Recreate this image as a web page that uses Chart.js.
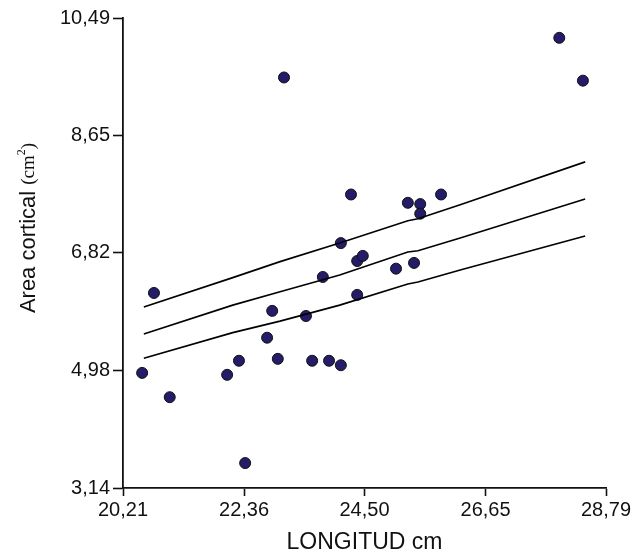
<!DOCTYPE html>
<html lang="es">
<head>
<meta charset="UTF-8" />
<title>Area cortical vs longitud</title>
<script src="https://cdn.jsdelivr.net/npm/chart.js@4.4.1/dist/chart.umd.min.js"></script>
<style>
  html, body { margin: 0; padding: 0; background: #fff; }
  #wrap { width: 637px; height: 556px; }
</style>
</head>
<body>
<div id="wrap"><canvas id="canvas"></canvas></div>
<script>
// axis ticks
const xTicks = [20.21, 22.36, 24.50, 26.65, 28.79];
const xTickLabels = ['20,21', '22,36', '24,50', '26,65', '28,79'];
const yTicks = [3.14, 4.98, 6.82, 8.65, 10.49];
const yTickLabels = ['3,14', '4,98', '6,82', '8,65', '10,49'];

const longitud = [20.55, 20.76, 21.04, 22.06, 22.27, 22.38, 22.77, 22.86, 22.96, 23.07,
                  23.46, 23.57, 23.76, 23.87, 24.08, 24.08, 24.26, 24.37, 24.47, 24.37,
                  25.06, 25.27, 25.38, 25.49, 25.49, 25.86, 27.96, 28.38];
const area     = [4.94, 6.19, 4.56, 4.91, 5.13, 3.53, 5.49, 5.91, 5.16, 9.56,
                  5.83, 5.13, 6.44, 5.13, 6.97, 5.06, 7.73, 6.69, 6.77, 6.16,
                  6.57, 7.60, 6.66, 7.58, 7.43, 7.73, 10.18, 9.51];

// regression line and bands
const lineX  = [20.58, 22.16, 23.00, 24.06, 25.27, 25.45, 26.20, 28.42];
const upperY = [5.97, 6.43, 6.68, 6.97, 7.32, 7.35, 7.57, 8.24];
const fitY   = [5.55, 6.00, 6.21, 6.47, 6.83, 6.85, 7.05, 7.66];
const lowerY = [5.17, 5.57, 5.75, 6.00, 6.33, 6.36, 6.55, 7.08];

const pts = (xs, ys) => xs.map((x, i) => ({ x: x, y: ys[i] }));

const lineStyle = {
    showLine: true,
    borderColor: '#000',
    borderWidth: 1.6,
    pointRadius: 0,
    fill: false,
    tension: 0
};

// y title with mixed fonts: "Area cortical (cm²)"
const yTitle = {
    id: 'yTitle',
    afterDraw(chart) {
        const ctx = chart.ctx;
        const parts = [
            { t: 'Area cortical ', f: '22px "Liberation Sans", Arial, sans-serif', dy: 0 },
            { t: '(cm', f: '19px "Liberation Serif", "Times New Roman", serif', dy: 0 },
            { t: '2', f: '12px "Liberation Serif", "Times New Roman", serif', dy: -7 },
            { t: ')', f: '19px "Liberation Serif", "Times New Roman", serif', dy: 0 }
        ];
        let total = 0;
        parts.forEach(p => { ctx.font = p.f; p.w = ctx.measureText(p.t).width; total += p.w; });
        ctx.save();
        ctx.translate(29, 228);
        ctx.rotate(-Math.PI / 2);
        ctx.fillStyle = '#111';
        ctx.textBaseline = 'middle';
        ctx.textAlign = 'left';
        let x = -total / 2;
        parts.forEach(p => {
            ctx.font = p.f;
            ctx.fillText(p.t, x, p.dy);
            x += p.w;
        });
        ctx.restore();
    }
};

const tickFont = { family: '"Liberation Sans", Arial, sans-serif', size: 20 };

new Chart(document.getElementById('canvas'), {
    type: 'scatter',
    data: {
        datasets: [
            Object.assign({ data: pts(lineX, upperY) }, lineStyle),
            Object.assign({ data: pts(lineX, fitY) }, lineStyle),
            Object.assign({ data: pts(lineX, lowerY) }, lineStyle),
            {
                data: pts(longitud, area),
                pointRadius: 5.5,
                pointBackgroundColor: '#241c68',
                pointBorderColor: '#111',
                pointBorderWidth: 1,
                showLine: false
            }
        ]
    },
    options: {
        responsive: true,
        maintainAspectRatio: false,
        animation: false,
        layout: { padding: { left: 0, right: 31, top: 18, bottom: 0 } },
        plugins: { legend: { display: false }, tooltip: { enabled: false } },
        scales: {
            x: {
                type: 'linear',
                min: 20.21,
                max: 28.79,
                afterBuildTicks: s => { s.ticks = xTicks.map(v => ({ value: v })); },
                afterFit: s => { s.height = 68; },
                ticks: {
                    color: '#111',
                    font: tickFont,
                    padding: 2,
                    maxRotation: 0,
                    callback: (v, i) => xTickLabels[i]
                },
                grid: { drawOnChartArea: false, drawTicks: true, tickLength: 8, tickColor: '#111', tickWidth: 1.6 },
                border: { color: '#111', width: 1.8 },
                title: {
                    display: true,
                    text: 'LONGITUD cm',
                    color: '#111',
                    font: { family: '"Liberation Sans", Arial, sans-serif', size: 23 },
                    padding: { top: 0, bottom: 0 }
                }
            },
            y: {
                type: 'linear',
                min: 3.14,
                max: 10.49,
                afterBuildTicks: s => { s.ticks = yTicks.map(v => ({ value: v })); },
                afterFit: s => { s.width = 123; },
                ticks: {
                    color: '#111',
                    font: tickFont,
                    padding: 3,
                    callback: (v, i) => yTickLabels[i]
                },
                grid: { drawOnChartArea: false, drawTicks: true, tickLength: 10, tickColor: '#111', tickWidth: 1.6 },
                border: { color: '#111', width: 1.8 }
            }
        }
    },
    plugins: [yTitle]
});
</script>
</body>
</html>
